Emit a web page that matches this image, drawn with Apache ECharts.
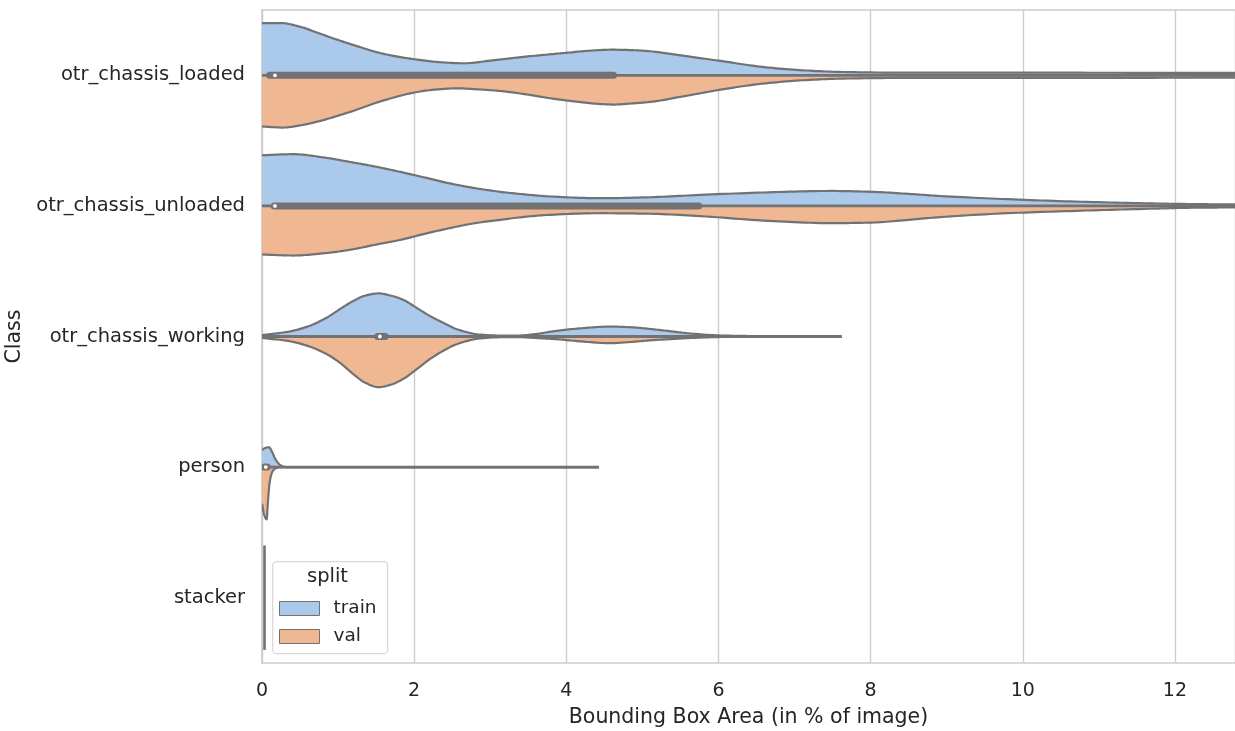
<!DOCTYPE html>
<html>
<head>
<meta charset="utf-8">
<script src="https://cdn.jsdelivr.net/npm/echarts@6/dist/echarts.min.js"></script>
<style>
html,body{margin:0;padding:0;background:#fff;}
#chart{width:1235px;height:731px;}
</style>
</head>
<body>
<div id="chart"></div>
<script>
// ---------- data ----------
const categories = ['otr_chassis_loaded', 'otr_chassis_unloaded', 'otr_chassis_working', 'person', 'stacker'];
const splits = ['train', 'val'];
const xTicks = [0, 2, 4, 6, 8, 10, 12];
const xMax = 12.79;

// density profiles: [bounding box area %, relative density (100 = widest)]
const loadedTrain = [[0,100],[0.25,100],[0.5,93],[0.72,82],[0.95,70],[1.16,60],[1.6,41],[2.04,30],[2.35,25],[2.65,23],[3.0,28],[3.35,34],[3.7,39],[4.0,43],[4.3,47],[4.6,49],[4.9,48],[5.1,46],[5.51,38],[6.05,27],[6.58,16],[7.11,9.5],[7.64,6.3],[8.5,5],[10,5],[11.5,4.8],[12.8,4.5]];
const loadedVal = [[0,98],[0.28,100],[0.5,96],[0.72,89],[1.16,70],[1.6,48],[2.04,32],[2.3,27],[2.57,25],[2.85,27],[3.13,30],[3.45,36],[3.79,44],[4.1,50],[4.45,55],[4.62,56],[4.85,54],[5.1,51],[5.51,41],[6.05,27],[6.58,16],[7.11,9.5],[7.64,6.3],[8.5,5],[10,5],[11.5,4.8],[12.8,4.5]];
const unloadedTrain = [[0,97],[0.41,99],[0.8,93],[1.16,84],[1.5,75],[1.82,65],[2.15,54],[2.47,43],[2.8,34],[3.13,27],[3.45,22],[3.79,18],[4.45,14.7],[5.1,16.6],[5.76,21],[6.66,26],[7.47,28.6],[8.01,27],[8.5,23],[8.91,19],[9.8,12.8],[10.7,8.2],[11.6,5.1],[12.28,3.4],[12.8,2.9]];
const unloadedVal = [[0,93],[0.41,95],[0.8,91],[1.16,84],[1.5,74],[1.82,65],[2.15,53],[2.47,42.5],[2.8,33],[3.13,26.7],[3.45,21],[3.79,17],[4.45,14],[5.1,15],[5.76,19.6],[6.66,28.6],[7.47,33],[8.01,32],[8.5,26.7],[8.91,21.5],[9.8,14],[10.7,9.5],[11.6,5.7],[12.28,3.4],[12.8,2.9]];
const workingTrain = [[0,2.9],[0.34,9],[0.6,19],[0.85,36],[1.03,53],[1.2,68],[1.35,78],[1.53,82.5],[1.7,78],[1.86,70],[2.03,55],[2.21,39],[2.4,25],[2.56,14],[2.86,3.8],[3.1,1.9],[3.37,1.9],[3.6,4.8],[3.87,10.7],[4.2,15.8],[4.57,19],[4.85,17.7],[5.13,14],[5.4,9.5],[5.63,5.7],[6.04,1.9],[6.5,0.8],[7.62,0]];
const workingVal = [[0,2.9],[0.34,8.4],[0.6,18],[0.85,33.7],[1.03,51],[1.2,72],[1.35,88],[1.53,97],[1.7,92],[1.86,81],[2.03,63],[2.21,43],[2.4,26],[2.56,14.7],[2.86,3.8],[3.1,1.5],[3.37,1.3],[3.6,2.9],[3.87,5.1],[4.2,9.5],[4.57,12.8],[4.85,10.5],[5.13,7],[5.4,4.8],[5.63,2.9],[6.04,1],[6.5,0.4],[7.62,0]];
const personTrain = [[0,33],[0.05,37],[0.09,38],[0.13,30],[0.17,17],[0.2,10],[0.24,4],[0.28,1],[0.32,0],[4.43,0]];
const personVal = [[0,70],[0.03,92],[0.06,100],[0.08,62],[0.1,30],[0.13,11],[0.17,3],[0.25,0],[4.43,0]];

// inner box stats per class: [whiskerLow, q1, median, q3, whiskerHigh]
const boxStats = [
  [0, 0.10, 0.17, 4.62, 12.8],
  [0, 0.16, 0.17, 5.74, 12.8],
  [0, 1.52, 1.55, 1.62, 7.62],
  [0, 0.03, 0.05, 0.07, 4.43]
];
// stacker: all values at one point -> degenerate violin drawn as a line
const stackerValue = 0.033;

const trainProfiles = [loadedTrain, unloadedTrain, workingTrain, personTrain];
const valProfiles = [loadedVal, unloadedVal, workingVal, personVal];

// ---------- style ----------
const TRAIN_COLOR = '#abc9ea';
const VAL_COLOR = '#efb792';
const GRAY = '#727272';
const TEXT = '#262626';
const GRID = '#cccccc';
const FONT = 'DejaVu Sans';

// monotone cubic (Fritsch-Carlson) smoothing of pixel points, for drawing only
function smoothPath(pts, steps) {
  const n = pts.length;
  if (n < 3) return pts;
  const dx = [], dy = [], m = [];
  for (let i = 0; i < n - 1; i++) {
    dx.push(pts[i + 1][0] - pts[i][0]);
    dy.push(pts[i + 1][1] - pts[i][1]);
    m.push(dx[i] === 0 ? 0 : dy[i] / dx[i]);
  }
  const t = new Array(n);
  t[0] = m[0]; t[n - 1] = m[n - 2];
  for (let i = 1; i < n - 1; i++) {
    if (m[i - 1] * m[i] <= 0) t[i] = 0;
    else {
      const w1 = 2 * dx[i] + dx[i - 1], w2 = dx[i] + 2 * dx[i - 1];
      t[i] = (w1 + w2) / (w1 / m[i - 1] + w2 / m[i]);
    }
  }
  const out = [];
  for (let i = 0; i < n - 1; i++) {
    const h = dx[i];
    for (let s = 0; s < steps; s++) {
      const u = s / steps;
      const h00 = 2*u*u*u - 3*u*u + 1, h10 = u*u*u - 2*u*u + u, h01 = -2*u*u*u + 3*u*u, h11 = u*u*u - u*u;
      out.push([pts[i][0] + u * h,
        h00 * pts[i][1] + h10 * h * t[i] + h01 * pts[i + 1][1] + h11 * h * t[i + 1]]);
    }
  }
  out.push(pts[n - 1]);
  return out;
}

function violinSeries(name, profiles, side, color) {
  return {
    name: name,
    type: 'custom',
    clip: true,
    z: 2,
    itemStyle: { color: color, borderColor: GRAY, borderWidth: 1 },
    encode: { x: 0, y: 1 },
    data: profiles.map((p, i) => [boxStats[i][2], i]),
    renderItem: function (params, api) {
      const prof = profiles[params.dataIndex];
      const cat = api.value(1);
      const half = api.size([0, 1])[1] * 0.4;
      const raw = prof.map(function (d) {
        const c = api.coord([d[0], cat]);
        return [c[0], c[1] + side * d[1] / 100 * half];
      });
      const pts = smoothPath(raw, 12);
      const c0 = api.coord([prof[0][0], cat]);
      const cN = api.coord([prof[prof.length - 1][0], cat]);
      const poly = [[c0[0], c0[1]]].concat(pts).concat([[cN[0], cN[1]]]);
      return {
        type: 'group',
        children: [
          { type: 'polygon', shape: { points: poly }, style: { fill: color, stroke: null } },
          { type: 'polyline', shape: { points: pts }, style: { fill: null, stroke: GRAY, lineWidth: 2.2, lineJoin: 'round' } }
        ]
      };
    }
  };
}

const chart = echarts.init(document.getElementById('chart'), null, { renderer: 'canvas' });

const option = {
  backgroundColor: '#ffffff',
  animation: false,
  textStyle: { fontFamily: FONT, color: TEXT },
  grid: { left: 262, right: 0, top: 10, bottom: 68, containLabel: false, outerBoundsMode: 'none' },
  xAxis: [
    {
      type: 'value', min: 0, max: xMax, interval: 2,
      axisLine: { show: true, lineStyle: { color: GRID, width: 1.7 } },
      axisTick: { show: false },
      splitLine: { show: true, lineStyle: { color: GRID, width: 1.4 } },
      axisLabel: {
        fontSize: 19, color: TEXT, fontFamily: FONT, margin: 19,
        showMaxLabel: false,
        formatter: function (v) { return xTicks.indexOf(v) >= 0 ? String(v) : ''; }
      },
      name: 'Bounding Box Area (in % of image)',
      nameLocation: 'middle', nameGap: 44,
      nameTextStyle: { fontSize: 20.5, color: TEXT, fontFamily: FONT }
    },
    {
      type: 'value', min: 0, max: xMax, position: 'top',
      axisLine: { show: true, lineStyle: { color: GRID, width: 1.7 } },
      axisTick: { show: false }, axisLabel: { show: false }, splitLine: { show: false }
    }
  ],
  yAxis: {
    type: 'category', data: categories, inverse: true,
    axisLine: { show: true, lineStyle: { color: GRID, width: 1.7 } },
    axisTick: { show: false },
    splitLine: { show: false },
    axisLabel: { fontSize: 19.5, color: TEXT, fontFamily: FONT, margin: 17 },
    name: 'Class', nameLocation: 'middle', nameRotate: 90, nameGap: 225,
    nameTextStyle: { fontSize: 20.5, color: TEXT, fontFamily: FONT }
  },
  legend: {
    data: [
      { name: 'train', icon: 'rect', itemStyle: { color: TRAIN_COLOR, borderColor: GRAY, borderWidth: 1 } },
      { name: 'val', icon: 'rect', itemStyle: { color: VAL_COLOR, borderColor: GRAY, borderWidth: 1 } }
    ],
    orient: 'vertical', left: 279, top: 599,
    itemWidth: 40, itemHeight: 14, itemGap: 9,
    selectedMode: false, z: 6, padding: 0,
    textStyle: { fontSize: 18.5, color: TEXT, fontFamily: FONT, padding: [0, 0, 0, 9] }
  },
  graphic: [
    { type: 'rect', left: 272, top: 561, z: 5, shape: { width: 115, height: 92, r: 4 },
      style: { fill: 'rgba(255,255,255,0.85)', stroke: '#d9d9d9', lineWidth: 1.3 } },
    { type: 'text', left: 307, top: 567, z: 6,
      style: { text: 'split', fontSize: 19.5, fill: TEXT, fontFamily: FONT } }
  ],
  series: [
    violinSeries('train', trainProfiles, -1, TRAIN_COLOR),
    violinSeries('val', valProfiles, 1, VAL_COLOR),
    {
      name: 'box', type: 'custom', clip: true, z: 3,
      encode: { x: 2, y: 5 },
      data: boxStats.map((b, i) => b.concat([i])),
      renderItem: function (params, api) {
        const cat = api.value(5);
        const wl = api.coord([api.value(0), cat]);
        const q1 = api.coord([api.value(1), cat]);
        const md = api.coord([api.value(2), cat]);
        const q3 = api.coord([api.value(3), cat]);
        const wh = api.coord([api.value(4), cat]);
        return {
          type: 'group',
          children: [
            { type: 'line', shape: { x1: wl[0], y1: wl[1], x2: wh[0], y2: wh[1] }, style: { stroke: GRAY, lineWidth: 2.8 } },
            { type: 'line', shape: { x1: q1[0], y1: q1[1], x2: q3[0], y2: q3[1] }, style: { stroke: GRAY, lineWidth: 7, lineCap: 'round' } },
            { type: 'circle', shape: { cx: md[0], cy: md[1], r: 1.9 }, style: { fill: '#ffffff' } }
          ]
        };
      }
    },
    {
      name: 'stacker', type: 'custom', clip: true, z: 3,
      encode: { x: 0, y: 1 },
      data: [[stackerValue, 4]],
      renderItem: function (params, api) {
        const c = api.coord([api.value(0), api.value(1)]);
        const half = api.size([0, 1])[1] * 0.4;
        return { type: 'line', shape: { x1: c[0], y1: c[1] - half, x2: c[0], y2: c[1] + half },
          style: { stroke: GRAY, lineWidth: 2.6 } };
      }
    }
  ]
};
chart.setOption(option);
</script>
</body>
</html>
